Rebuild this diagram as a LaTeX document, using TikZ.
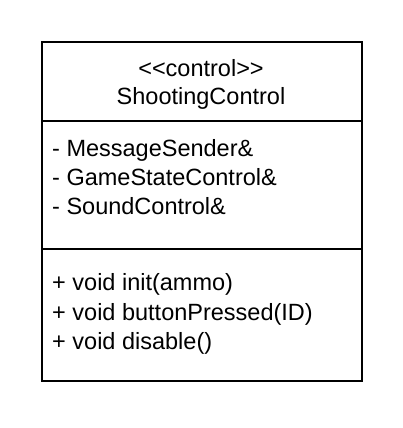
\documentclass[tikz,border=0pt]{standalone}
\usepackage{fontspec}
\setmainfont{Liberation Sans}
\begin{document}
\begin{tikzpicture}[x=1pt,y=-1pt,
  txt/.style={inner sep=0pt,font=\fontsize{23.5}{28}\selectfont,anchor=base west},
  ctr/.style={inner sep=0pt,font=\fontsize{23.5}{28}\selectfont,anchor=base},
  frame/.style={draw=black,line width=2pt}]
\useasboundingbox (0,0) rectangle (402,428);
\fill[white] (0,0) rectangle (402,428);
\node[frame,rectangle,minimum width=320pt,minimum height=339pt,inner sep=0pt,anchor=north west] (box) at (41,41) {};
\coordinate (d1l) at (41,121);
\coordinate (d1r) at (361,121);
\coordinate (d2l) at (41,249);
\coordinate (d2r) at (361,249);
\draw[frame] (d1l) -- (d1r);
\draw[frame] (d2l) -- (d2r);
\node[ctr] (st) at (201,76) {<\kern0pt<control>\kern0pt>};
\node[ctr] (nm) at (201,104) {ShootingControl};
\node[txt] (a1) at (52,156) {- MessageSender\&};
\node[txt] (a2) at (52,185) {- GameStateControl\&};
\node[txt] (a3) at (52,214) {- SoundControl\&};
\node[txt] (m1) at (52,290) {+ void init(ammo)};
\node[txt] (m2) at (52,320) {+ void buttonPressed(ID)};
\node[txt] (m3) at (52,349) {+ void disable()};
\end{tikzpicture}
\end{document}
